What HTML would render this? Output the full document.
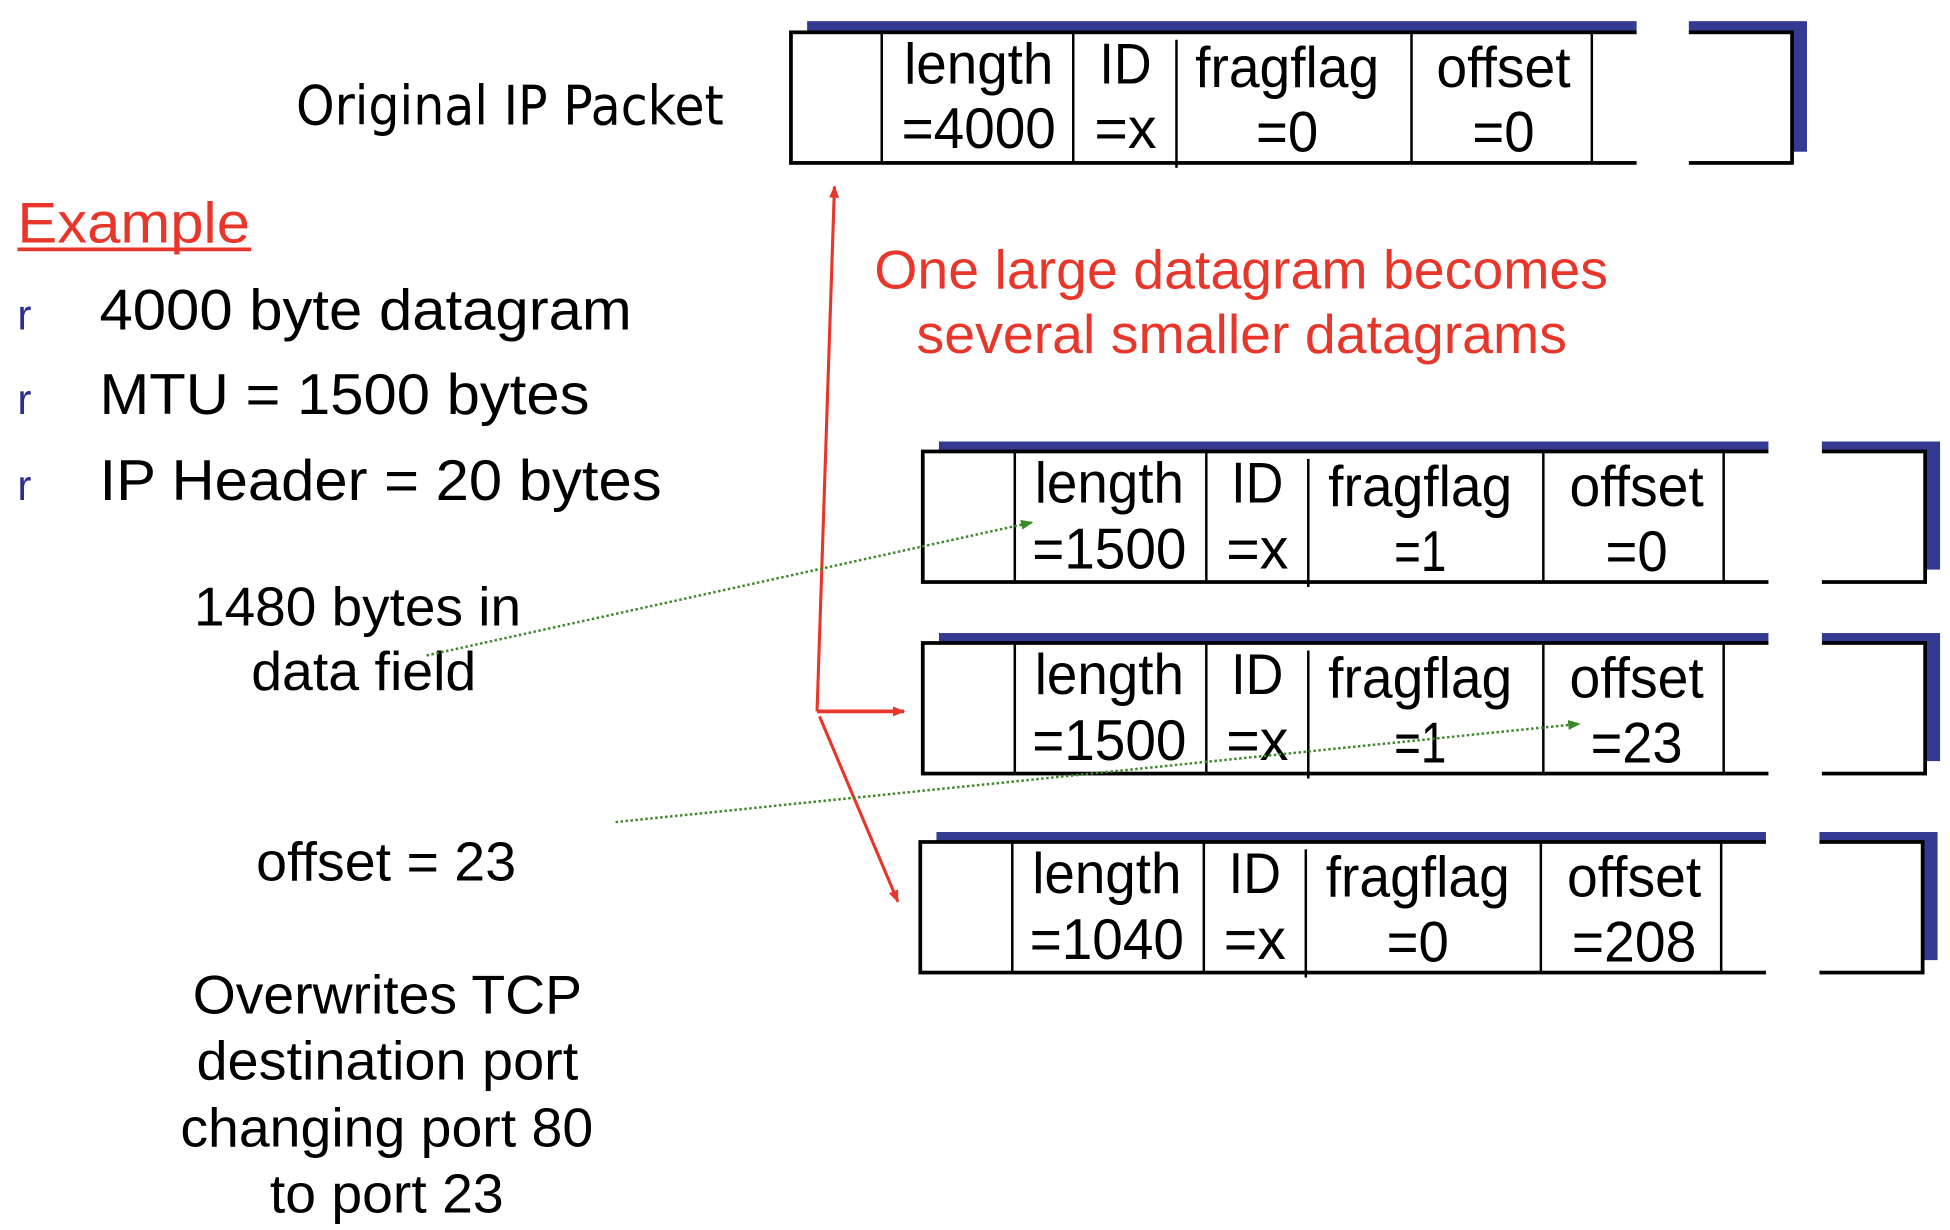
<!DOCTYPE html>
<html><head><meta charset="utf-8"><style>html,body{margin:0;padding:0;background:#fff}svg{display:block}</style></head>
<body>
<svg width="1950" height="1230" viewBox="0 0 1568 989" preserveAspectRatio="none" xmlns="http://www.w3.org/2000/svg" font-family="'Liberation Sans Narrow','Liberation Sans',sans-serif">
<defs>
<marker id="ra" markerWidth="10" markerHeight="10" refX="9" refY="5" orient="auto" markerUnits="userSpaceOnUse"><path d="M0,1 L10,5 L0,9 z" fill="#e8372a"/></marker>
<marker id="ga" markerWidth="10" markerHeight="10" refX="9" refY="5" orient="auto" markerUnits="userSpaceOnUse"><path d="M0,1 L10,5 L0,9 z" fill="#3c8a2a"/></marker>
</defs>
<rect width="1568" height="989" fill="#fff"/>

<!-- Packet 1 -->
<g>
<rect x="649" y="17" width="804" height="105" fill="#333a92"/>
<rect x="636" y="26" width="805" height="105" fill="#fff" stroke="#000" stroke-width="3"/>
<rect x="1316" y="15" width="42" height="13" fill="#fff"/>
<rect x="1316" y="128" width="42" height="6" fill="#fff"/>
<g stroke="#000" stroke-width="2"><line x1="709" y1="26" x2="709" y2="131"/><line x1="863" y1="26" x2="863" y2="131"/><line x1="946" y1="32" x2="946" y2="135"/><line x1="1135" y1="26" x2="1135" y2="131"/><line x1="1280" y1="26" x2="1280" y2="131"/></g>
<g font-size="46" text-anchor="middle" fill="#000">
<text x="787" y="67" textLength="120" lengthAdjust="spacingAndGlyphs">length</text>
<text x="787" y="119" textLength="124" lengthAdjust="spacingAndGlyphs">=4000</text>
<text x="905" y="67" textLength="42" lengthAdjust="spacingAndGlyphs">ID</text>
<text x="905" y="119" textLength="50" lengthAdjust="spacingAndGlyphs">=x</text>
<text x="1035" y="70" textLength="148" lengthAdjust="spacingAndGlyphs">fragflag</text>
<text x="1035" y="122" textLength="50" lengthAdjust="spacingAndGlyphs">=0</text>
<text x="1209" y="70" textLength="108" lengthAdjust="spacingAndGlyphs">offset</text>
<text x="1209" y="122" textLength="50" lengthAdjust="spacingAndGlyphs">=0</text>
</g>
</g>

<!-- Packet 2 -->
<g transform="translate(106,337)">
<rect x="649" y="18" width="805" height="103" fill="#333a92"/>
<rect x="636" y="26" width="806" height="105" fill="#fff" stroke="#000" stroke-width="3"/>
<rect x="1316" y="15" width="43" height="13" fill="#fff"/>
<rect x="1316" y="128" width="43" height="6" fill="#fff"/>
<g stroke="#000" stroke-width="2"><line x1="710" y1="26" x2="710" y2="131"/><line x1="864" y1="26" x2="864" y2="131"/><line x1="946" y1="32" x2="946" y2="135"/><line x1="1135" y1="26" x2="1135" y2="131"/><line x1="1280" y1="26" x2="1280" y2="131"/></g>
<g font-size="46" text-anchor="middle" fill="#000">
<text x="786" y="67" textLength="120" lengthAdjust="spacingAndGlyphs">length</text>
<text x="786" y="120" textLength="124" lengthAdjust="spacingAndGlyphs">=1500</text>
<text x="905" y="67" textLength="42" lengthAdjust="spacingAndGlyphs">ID</text>
<text x="905" y="120" textLength="50" lengthAdjust="spacingAndGlyphs">=x</text>
<text x="1036" y="70" textLength="148" lengthAdjust="spacingAndGlyphs">fragflag</text>
<text x="1036" y="122" textLength="42" lengthAdjust="spacingAndGlyphs">=1</text>
<text x="1210" y="70" textLength="108" lengthAdjust="spacingAndGlyphs">offset</text>
<text x="1210" y="122" textLength="50" lengthAdjust="spacingAndGlyphs">=0</text>
</g>
</g>

<!-- Packet 3 -->
<g transform="translate(106,491)">
<rect x="649" y="18" width="805" height="103" fill="#333a92"/>
<rect x="636" y="26" width="806" height="105" fill="#fff" stroke="#000" stroke-width="3"/>
<rect x="1316" y="15" width="43" height="13" fill="#fff"/>
<rect x="1316" y="128" width="43" height="6" fill="#fff"/>
<g stroke="#000" stroke-width="2"><line x1="710" y1="26" x2="710" y2="131"/><line x1="864" y1="26" x2="864" y2="131"/><line x1="946" y1="32" x2="946" y2="135"/><line x1="1135" y1="26" x2="1135" y2="131"/><line x1="1280" y1="26" x2="1280" y2="131"/></g>
<g font-size="46" text-anchor="middle" fill="#000">
<text x="786" y="67" textLength="120" lengthAdjust="spacingAndGlyphs">length</text>
<text x="786" y="120" textLength="124" lengthAdjust="spacingAndGlyphs">=1500</text>
<text x="905" y="67" textLength="42" lengthAdjust="spacingAndGlyphs">ID</text>
<text x="905" y="120" textLength="50" lengthAdjust="spacingAndGlyphs">=x</text>
<text x="1036" y="70" textLength="148" lengthAdjust="spacingAndGlyphs">fragflag</text>
<text x="1036" y="122" textLength="42" lengthAdjust="spacingAndGlyphs">=1</text>
<text x="1210" y="70" textLength="108" lengthAdjust="spacingAndGlyphs">offset</text>
<text x="1210" y="122" textLength="74" lengthAdjust="spacingAndGlyphs">=23</text>
</g>
</g>

<!-- Packet 4 -->
<g transform="translate(104,651)">
<rect x="649" y="18" width="805" height="103" fill="#333a92"/>
<rect x="636" y="26" width="806" height="105" fill="#fff" stroke="#000" stroke-width="3"/>
<rect x="1316" y="15" width="43" height="13" fill="#fff"/>
<rect x="1316" y="128" width="43" height="6" fill="#fff"/>
<g stroke="#000" stroke-width="2"><line x1="710" y1="26" x2="710" y2="131"/><line x1="864" y1="26" x2="864" y2="131"/><line x1="946" y1="32" x2="946" y2="135"/><line x1="1135" y1="26" x2="1135" y2="131"/><line x1="1280" y1="26" x2="1280" y2="131"/></g>
<g font-size="46" text-anchor="middle" fill="#000">
<text x="786" y="67" textLength="120" lengthAdjust="spacingAndGlyphs">length</text>
<text x="786" y="120" textLength="124" lengthAdjust="spacingAndGlyphs">=1040</text>
<text x="905" y="67" textLength="42" lengthAdjust="spacingAndGlyphs">ID</text>
<text x="905" y="120" textLength="50" lengthAdjust="spacingAndGlyphs">=x</text>
<text x="1036" y="70" textLength="148" lengthAdjust="spacingAndGlyphs">fragflag</text>
<text x="1036" y="122" textLength="50" lengthAdjust="spacingAndGlyphs">=0</text>
<text x="1210" y="70" textLength="108" lengthAdjust="spacingAndGlyphs">offset</text>
<text x="1210" y="122" textLength="100" lengthAdjust="spacingAndGlyphs">=208</text>
</g>
</g>

<!-- Left texts -->
<text x="238" y="100" font-size="44" font-family="'DejaVu Sans','Liberation Sans',sans-serif" textLength="344" lengthAdjust="spacingAndGlyphs" fill="#000">Original IP Packet</text>
<text x="14" y="195" font-size="46" fill="#e8372a" textLength="187" lengthAdjust="spacingAndGlyphs">Example</text>
<rect x="14" y="199" width="188" height="3" fill="#e8372a"/>
<g font-size="34" fill="#2c2f8f"><text x="14" y="265">r</text><text x="14" y="333">r</text><text x="14" y="402">r</text></g>
<g font-size="46" fill="#000">
<text x="80" y="265" textLength="428" lengthAdjust="spacingAndGlyphs">4000 byte datagram</text>
<text x="80" y="333" textLength="394" lengthAdjust="spacingAndGlyphs">MTU = 1500 bytes</text>
<text x="80" y="402" textLength="452" lengthAdjust="spacingAndGlyphs">IP Header = 20 bytes</text>
</g>
<g font-size="44" fill="#000">
<text x="156" y="503" textLength="263" lengthAdjust="spacingAndGlyphs">1480 bytes in</text>
<text x="202" y="555" textLength="181" lengthAdjust="spacingAndGlyphs">data field</text>
<text x="206" y="708" textLength="209" lengthAdjust="spacingAndGlyphs">offset = 23</text>
<text x="155" y="815" textLength="313" lengthAdjust="spacingAndGlyphs">Overwrites TCP</text>
<text x="158" y="868" textLength="307" lengthAdjust="spacingAndGlyphs">destination port</text>
<text x="145" y="922" textLength="332" lengthAdjust="spacingAndGlyphs">changing port 80</text>
<text x="217" y="975" textLength="188" lengthAdjust="spacingAndGlyphs">to port 23</text>
</g>
<g font-size="44" fill="#e8372a">
<text x="703" y="232" textLength="590" lengthAdjust="spacingAndGlyphs">One large datagram becomes</text>
<text x="737" y="284" textLength="523" lengthAdjust="spacingAndGlyphs">several smaller datagrams</text>
</g>

<!-- Red arrows -->
<g stroke="#e8372a" stroke-width="2.5" fill="none">
<line x1="657" y1="572" x2="671" y2="150" marker-end="url(#ra)"/>
<line x1="657" y1="572" x2="727" y2="572" stroke-width="3" marker-end="url(#ra)"/>
<line x1="659" y1="576" x2="722" y2="725" marker-end="url(#ra)"/>
</g>
<!-- Green dotted arrows -->
<g stroke="#3c8a2a" stroke-width="2" stroke-dasharray="2,2" fill="none">
<line x1="343" y1="527" x2="830" y2="420" marker-end="url(#ga)"/>
<line x1="495" y1="661" x2="1270" y2="582" marker-end="url(#ga)"/>
</g>
</svg>
</body></html>
